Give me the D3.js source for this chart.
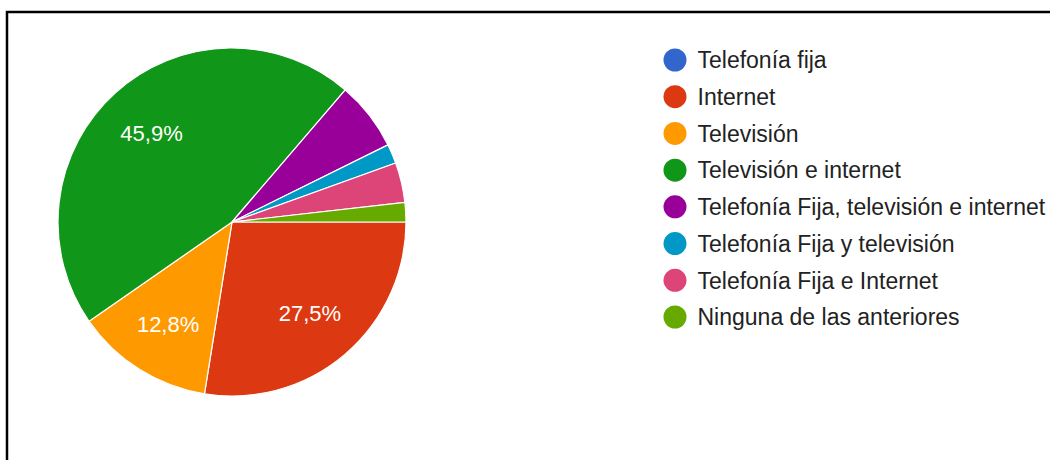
<!DOCTYPE html>
<html>
<head>
<meta charset="utf-8">
<script src="https://cdn.jsdelivr.net/npm/d3@7"></script>
<style>
  html, body { margin: 0; padding: 0; background: #fff; }
  svg { display: block; }
</style>
</head>
<body>
<svg id="chart" width="1050" height="460"></svg>
<script>
// Survey answers: share of respondents per service (percent)
const categories = [
  "Telefonía fija",
  "Internet",
  "Televisión",
  "Televisión e internet",
  "Telefonía Fija, televisión e internet",
  "Telefonía Fija y televisión",
  "Telefonía Fija e Internet",
  "Ninguna de las anteriores"
];
const values = [0, 27.5, 12.8, 45.9, 6.4, 1.8, 3.7, 1.8];
const colors = ["#3366cc", "#dc3912", "#ff9900", "#109618", "#990099", "#0099c6", "#dd4477", "#66aa00"];

const data = categories.map((c, i) => ({ name: c, value: values[i], color: colors[i] }));

const svg = d3.select("#chart");
const font = "'Liberation Sans', Arial, sans-serif";

// Frame
svg.append("path")
  .attr("d", "M7,460 V12 H1050")
  .attr("fill", "none")
  .attr("stroke", "#000")
  .attr("stroke-width", 2.5);

const cx = 232, cy = 222, radius = 174;

const pie = d3.pie()
  .sort(null)
  .value(d => d.value)
  .startAngle(Math.PI / 2)
  .endAngle(Math.PI / 2 + 2 * Math.PI);

const arcs = pie(data);
const arc = d3.arc().innerRadius(0).outerRadius(radius);
const labelArc = d3.arc().innerRadius(radius * 0.69).outerRadius(radius * 0.69);

const g = svg.append("g").attr("transform", `translate(${cx},${cy})`);

g.selectAll("path.slice")
  .data(arcs.filter(d => d.data.value > 0))
  .join("path")
  .attr("class", "slice")
  .attr("d", arc)
  .attr("fill", d => d.data.color)
  .attr("stroke", "#fff")
  .attr("stroke-width", 1.2);

const fmt = v => d3.format(".1f")(v).replace(".", ",") + "%";

g.selectAll("text.pct")
  .data(arcs.filter(d => d.data.value >= 10))
  .join("text")
  .attr("class", "pct")
  .attr("transform", d => `translate(${labelArc.centroid(d)})`)
  .attr("text-anchor", "middle")
  .attr("dy", "0.36em")
  .attr("fill", "#fff")
  .style("font-family", font)
  .style("font-size", "22px")
  .text(d => fmt(d.data.value));

// Legend
const legendY = d3.scalePoint()
  .domain(categories)
  .range([60, 317]);

const legend = svg.append("g");
const item = legend.selectAll("g.item")
  .data(data)
  .join("g")
  .attr("class", "item")
  .attr("transform", d => `translate(675,${legendY(d.name)})`);

item.append("circle")
  .attr("r", 11.5)
  .attr("fill", d => d.color);

item.append("text")
  .attr("x", 22.5)
  .attr("dy", "0.36em")
  .attr("fill", "#222")
  .style("font-family", font)
  .style("font-size", "23px")
  .text(d => d.name);
</script>
</body>
</html>
